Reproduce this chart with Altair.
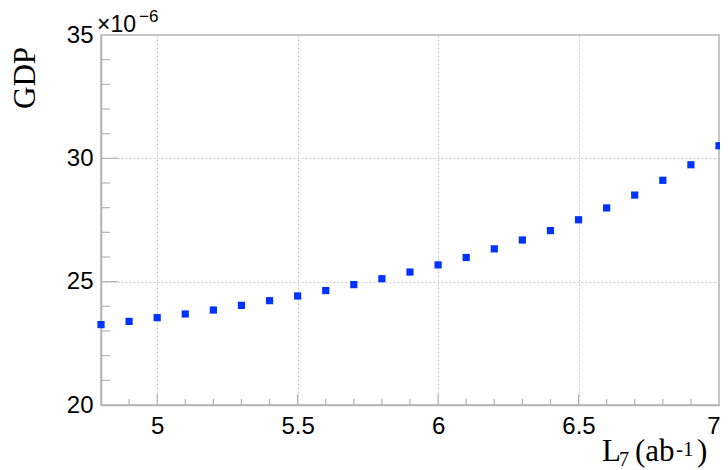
import altair as alt
import pandas as pd

# ---- data (values in units of 1e-6) ----
lumi = [4.8, 4.9, 5.0, 5.1, 5.2, 5.3, 5.4, 5.5, 5.6, 5.7, 5.8, 5.9,
        6.0, 6.1, 6.2, 6.3, 6.4, 6.5, 6.6, 6.7, 6.8, 6.9, 7.0]
gdp = [23.26, 23.39, 23.54, 23.69, 23.85, 24.04, 24.23, 24.42, 24.64, 24.88,
       25.12, 25.39, 25.68, 25.98, 26.33, 26.69, 27.07, 27.51, 27.99, 28.51,
       29.11, 29.74, 30.51]

x_labels = [5, 5.5, 6, 6.5, 7]
x_major_ticks = [5, 5.5, 6, 6.5]
x_minor_ticks = [4.9, 5.1, 5.2, 5.3, 5.4, 5.6, 5.7, 5.8, 5.9, 6.1, 6.2, 6.3,
                 6.4, 6.6, 6.7, 6.8, 6.9]
y_labels = [20, 25, 30, 35]
y_major_ticks = [25, 30]
y_minor_ticks = [21, 22, 23, 24, 26, 27, 28, 29, 31, 32, 33, 34]

W, H = 618, 370
GRAY = "#b4b4b4"
SANS = "Liberation Sans"
SERIF = "Liberation Serif"

xs = alt.Scale(domain=[4.8, 7], nice=False, zero=False)
ys = alt.Scale(domain=[20, 35], nice=False, zero=False)

x_axis = alt.Axis(
    values=x_labels, format="~g", title=None, ticks=False, grid=True,
    gridColor="#c8c8c8", gridDash=[2, 2], gridWidth=1,
    domainColor=GRAY, domainWidth=1.5,
    labelFont=SANS, labelFontSize=24, labelColor="black",
    labelPadding=9, labelOverlap=False, labelFlush=2, labelFlushOffset=1)
y_axis = alt.Axis(
    values=y_labels, format="d", title=None, ticks=False, grid=True,
    gridColor="#c8c8c8", gridDash=[2, 2], gridWidth=1,
    domainColor=GRAY, domainWidth=1.5,
    labelFont=SANS, labelFontSize=24, labelColor="black",
    labelPadding=8, labelOverlap=False, labelFlush=False)

df = pd.DataFrame({"L": lumi, "GDP": gdp})

points = alt.Chart(df).mark_square(size=52, color="#0033ff", opacity=1).encode(
    x=alt.X("L:Q", scale=xs, axis=x_axis),
    y=alt.Y("GDP:Q", scale=ys, axis=y_axis),
)

def xticks(vals, length):
    return alt.Chart(pd.DataFrame({"v": vals})).mark_rule(color=GRAY, strokeWidth=1.2).encode(
        x=alt.X("v:Q", scale=xs, axis=x_axis),
        y=alt.value(H), y2=alt.value(H - length))

def yticks(vals, length):
    return alt.Chart(pd.DataFrame({"v": vals})).mark_rule(color=GRAY, strokeWidth=1.2).encode(
        y=alt.Y("v:Q", scale=ys, axis=y_axis),
        x=alt.value(0), x2=alt.value(length))

one = pd.DataFrame({"a": [0]})

def label(text, x, y, size, font, angle=0, align="left", baseline="alphabetic"):
    kw = dict(text=text, font=font, fontSize=size, color="black",
              align=align, baseline=baseline)
    if angle:
        kw["angle"] = angle
    return alt.Chart(one).mark_text(**kw).encode(x=alt.value(x), y=alt.value(y))

texts = [
    label("GDP", -75, 43, 31, SERIF, angle=270, align="center", baseline="middle"),
    label("L", 501, 426, 31, SERIF),
    label("7", 518, 431, 20, SERIF),
    label("(ab", 534, 426, 31, SERIF),
    label("-1", 575, 421, 21, SERIF),
    label(")", 596, 426, 31, SERIF),
    label("\u00d710", -4, -3, 23, SANS),
    label("\u22126", 38, -13, 17, SANS),
]

chart = alt.layer(
    points,
    xticks(x_major_ticks, 11), xticks(x_minor_ticks, 6),
    yticks(y_major_ticks, 17), yticks(y_minor_ticks, 9),
    *texts,
).properties(
    width=W, height=H,
    autosize=alt.AutoSizeParams(type="none"),
    padding={"left": 93, "top": 27, "right": 1, "bottom": 64},
).configure_view(
    stroke=GRAY, strokeWidth=1.5
)

chart.save("out.html", embed_options={"renderer": "svg", "actions": False})
